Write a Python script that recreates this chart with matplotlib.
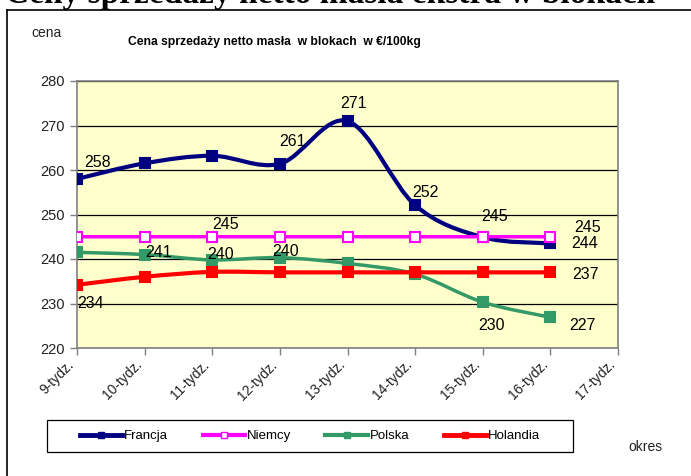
import matplotlib.pyplot as plt
from matplotlib.path import Path
from matplotlib.patches import PathPatch, Rectangle
from matplotlib.lines import Line2D
from matplotlib.transforms import ScaledTranslation

# dane
tygodnie = ["9-tydz.", "10-tydz.", "11-tydz.", "12-tydz.", "13-tydz.",
            "14-tydz.", "15-tydz.", "16-tydz.", "17-tydz."]
francja = [258, 261.5, 263.2, 261.4, 271, 252.1, 244.9, 243.5]
niemcy = [245, 245, 245, 245, 245, 245, 245, 245]
polska = [241.5, 241.0, 239.8, 240.3, 239.0, 236.6, 230.3, 226.9]
holandia = [234.2, 236.0, 237.1, 237, 237, 237, 237, 237]
y_ticks = [220, 230, 240, 250, 260, 270, 280]

# etykiety danych: (indeks, tekst, przesuniecie w px)
etyk_francja = [(0, "258", (21, 16)), (3, "261", (13, 22)), (4, "271", (6, 18)),
                (5, "252", (10, 13)), (7, "244", (34, 0))]
etyk_niemcy = [(2, "245", (13, 12)), (6, "245", (12, 20)), (7, "245", (37, 9))]
etyk_polska = [(1, "241", (14, 2)), (2, "240", (8, 5)), (3, "240", (6, 6)),
               (6, "230", (9, -23)), (7, "227", (32, -8))]
etyk_holandia = [(0, "234", (14, -19)), (7, "237", (35, -2))]

W, H = 691, 476
fig = plt.figure(figsize=(W / 100, H / 100), dpi=100)
ax = fig.add_axes([77 / W, 1 - 348 / H, (618 - 77) / W, (348 - 81) / H])
ax.set_facecolor("#FFFFCC")

x = list(range(len(francja)))


def gladka(ax, xs, ys, color, lw):
    # wygladzenie jak w Excelu (krzywe Beziera)
    n = len(xs)
    verts = [(xs[0], ys[0])]
    codes = [Path.MOVETO]
    for i in range(n - 1):
        x0, y0 = xs[max(i - 1, 0)], ys[max(i - 1, 0)]
        x1, y1 = xs[i], ys[i]
        x2, y2 = xs[i + 1], ys[i + 1]
        x3, y3 = xs[min(i + 2, n - 1)], ys[min(i + 2, n - 1)]
        c1 = (x1 + (x2 - x0) / 6, y1 + (y2 - y0) / 6)
        c2 = (x2 - (x3 - x1) / 6, y2 - (y3 - y1) / 6)
        verts += [c1, c2, (x2, y2)]
        codes += [Path.CURVE4] * 3
    ax.add_patch(PathPatch(Path(verts, codes), fill=False, edgecolor=color,
                           lw=lw, capstyle="round", joinstyle="round", zorder=3))


serie = [
    ("Francja", francja, "#000080", "#000080", 3.0, etyk_francja),
    ("Niemcy", niemcy, "#FF00FF", "white", 2.5, etyk_niemcy),
    ("Polska", polska, "#339966", "#339966", 2.5, etyk_polska),
    ("Holandia", holandia, "#FF0000", "#FF0000", 3.0, etyk_holandia),
]

for nazwa, ys, kol, wyp, lw, etyk in serie:
    gladka(ax, x, ys, kol, lw)
    ax.plot(x, ys, linestyle="none", marker="s", ms=7.5, mfc=wyp, mec=kol,
            mew=1.5, zorder=4)
    for i, t, (dx, dy) in etyk:
        ax.annotate(t, (x[i], ys[i]), xytext=(dx * 0.72, dy * 0.72),
                    textcoords="offset points", ha="center", va="center",
                    fontsize=11.5, family="Liberation Sans", color="black",
                    zorder=5)

ax.set_xlim(0, 8)
ax.set_ylim(220, 280)
ax.set_yticks(y_ticks)
ax.set_xticks(range(len(tygodnie)))
ax.set_xticklabels(tygodnie, rotation=45, ha="right", va="top",
                   fontsize=10, family="Liberation Sans", color="#222222")
przesun = ScaledTranslation(7 / 100, -6 / 100, fig.dpi_scale_trans)
for lab in ax.get_xticklabels():
    lab.set_transform(lab.get_transform() + przesun)
for lab in ax.get_yticklabels():
    lab.set_fontsize(10.5)
    lab.set_family("Liberation Sans")
    lab.set_color("#222222")
ax.tick_params(axis="both", direction="out", length=5, color="#808080", width=1)
ax.tick_params(axis="x", pad=2)
ax.tick_params(axis="y", pad=4)
ax.grid(axis="y", color="black", lw=0.9)
ax.set_axisbelow(True)
for s in ax.spines.values():
    s.set_color("#808080")
    s.set_linewidth(1.2)

# tytul wykresu i opisy osi
fig.text(274 / W, 1 - 42 / H, "Cena sprzedaży netto masła  w blokach  w €/100kg",
         ha="center", va="center", fontsize=8.7, fontweight="bold",
         family="Liberation Sans")
fig.text(46 / W, 1 - 33 / H, "cena", ha="center", va="center", fontsize=10,
         family="Liberation Sans", color="#222222")
fig.text(645 / W, 1 - 447 / H, "okres", ha="center", va="center", fontsize=10,
         family="Liberation Sans", color="#222222")

# uciety naglowek dokumentu
fig.text(5 / W, 1 - 3.5 / H, "Ceny sprzedaży netto masła ekstra w blokach",
         ha="left", va="baseline", fontsize=24, fontweight="bold",
         family="Liberation Serif")

# ramka obszaru wykresu
fig.add_artist(Line2D([7 / W, 7 / W], [0, 1 - 9.5 / H], color="black", lw=1.2,
                      transform=fig.transFigure))
fig.add_artist(Line2D([7 / W, 1], [1 - 9.5 / H, 1 - 9.5 / H], color="black",
                      lw=1.2, transform=fig.transFigure))

# legenda
fig.add_artist(Rectangle((47 / W, 1 - 452 / H), (573 - 47) / W, 32 / H,
                         fill=False, edgecolor="black", lw=0.9,
                         transform=fig.transFigure))
uchwyty = [Line2D([], [], color=k, lw=lw + 0.5, marker="s", ms=5, mfc=w, mec=k)
           for _, _, k, w, lw, _ in serie]
leg = fig.legend(uchwyty, [s[0] for s in serie], loc="center",
                 bbox_to_anchor=((47 + 573) / 2 / W, 1 - 436 / H), ncol=4,
                 frameon=False, prop={"family": "Liberation Sans", "size": 9.5},
                 handlelength=3.2, handletextpad=0.15, columnspacing=2.6)

fig.savefig("out.png", dpi=100)
